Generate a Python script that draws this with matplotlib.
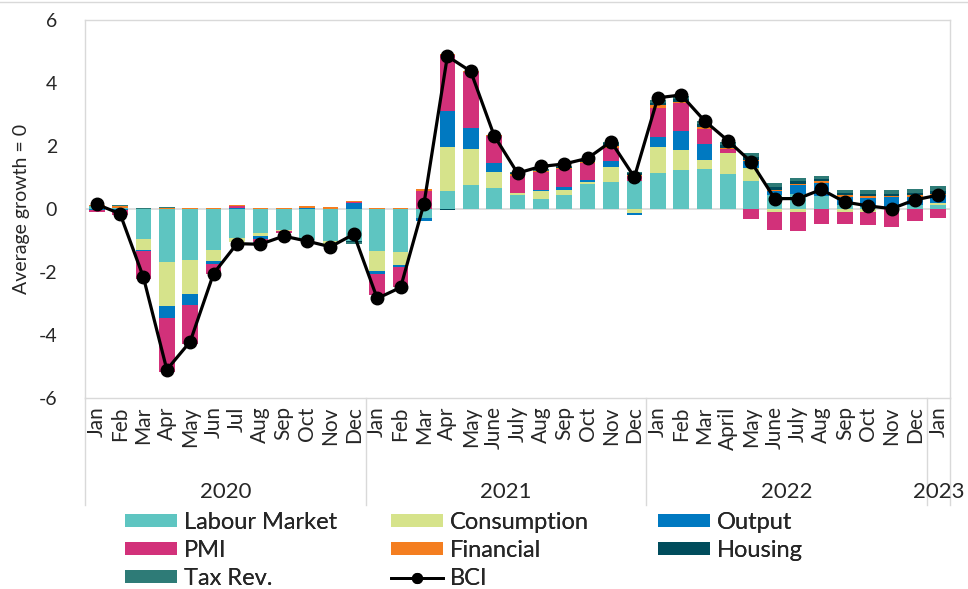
import matplotlib
matplotlib.use("Agg")
import matplotlib.pyplot as plt
import numpy as np
from matplotlib.lines import Line2D
from matplotlib.patches import Patch

plt.rcParams['font.family'] = ['Lato', 'DejaVu Sans']

months = ["Jan", "Feb", "Mar", "Apr", "May", "Jun", "Jul", "Aug", "Sep", "Oct", "Nov", "Dec",
          "Jan", "Feb", "Mar", "Apr", "May", "June", "July", "Aug", "Sep", "Oct", "Nov", "Dec",
          "Jan", "Feb", "Mar", "April", "May", "June", "July", "Aug", "Sep", "Oct", "Nov", "Dec",
          "Jan"]
years = ["2020", "2021", "2022", "2023"]
year_counts = [12, 12, 12, 1]

labour = [0.08, 0.04, -0.95, -1.67, -1.61, -1.30, -0.91, -0.75, -0.67, -0.98, -1.03, -1.00,
          -1.32, -1.35, -0.30, 0.56, 0.75, 0.68, 0.46, 0.33, 0.44, 0.80, 0.87, 0.88,
          1.14, 1.23, 1.26, 1.10, 0.89, 0.45, 0.49, 0.40, 0.14, 0.06, 0.04, 0.14, 0.14]
consumption = [0, 0, -0.34, -1.42, -1.10, -0.36, -0.14, -0.10, -0.03, 0, -0.09, 0,
               -0.65, -0.43, 0, 1.41, 1.15, 0.49, 0.06, 0.23, 0.15, 0.07, 0.46, -0.13,
               0.83, 0.63, 0.31, 0.69, 0.42, -0.10, -0.10, 0, -0.08, -0.08, 0, 0, 0.06]
output = [-0.03, -0.03, -0.04, -0.38, -0.34, -0.10, 0.04, -0.11, 0, 0.03, 0, 0.18,
          -0.10, -0.07, -0.08, 1.14, 0.68, 0.30, 0, 0.05, 0.10, 0.06, 0.19, -0.07,
          0.32, 0.61, 0.50, 0, 0.20, 0.12, 0.26, 0.43, 0.24, 0.29, 0.33, 0.24, 0.23]
pmi = [-0.05, -0.15, -0.89, -1.71, -1.24, -0.30, 0.04, -0.10, -0.05, 0, 0, 0.05,
       -0.66, -0.62, 0.56, 1.79, 1.77, 0.85, 0.54, 0.55, 0.57, 0.52, 0.42, 0.16,
       0.93, 0.89, 0.48, 0.10, -0.33, -0.58, -0.61, -0.48, -0.39, -0.44, -0.57, -0.39, -0.29]
financial = [0.04, 0.05, 0, 0.03, 0.03, 0.03, 0.04, 0.03, 0.03, 0.05, 0.06, 0.03,
             0.02, 0.03, 0.08, 0.03, 0.03, 0.03, 0.05, 0.06, 0.05, 0.05, 0.07, 0.05,
             0.07, 0.05, 0.06, 0.05, 0.05, 0.04, 0.05, 0.05, 0.05, 0.05, 0.04, 0.06, 0.05]
housing = [0, 0.02, 0, 0, 0, 0, 0, 0, 0, 0, 0, -0.05,
           0, 0, 0, -0.03, 0, 0, 0.03, 0, 0.03, 0.05, 0.08, 0.04,
           0.07, 0.08, 0.08, 0.08, 0.10, 0.08, 0.08, 0.08, 0.07, 0.08, 0.08, 0.08, 0.10]
tax_rev = [0, 0.02, 0.03, 0.04, 0, 0, 0, -0.03, 0, 0, 0, -0.05,
           0, 0, 0, 0, 0, 0, 0.03, 0.05, 0.03, 0.05, 0.05, 0.05,
           0.11, 0.11, 0.11, 0.11, 0.13, 0.15, 0.10, 0.10, 0.11, 0.12, 0.10, 0.10, 0.14]
bci = [0.15, -0.15, -2.17, -5.10, -4.21, -2.05, -1.10, -1.12, -0.86, -1.02, -1.20, -0.80,
       -2.84, -2.49, 0.17, 4.85, 4.37, 2.33, 1.14, 1.35, 1.43, 1.61, 2.14, 1.01,
       3.53, 3.62, 2.80, 2.17, 1.49, 0.33, 0.33, 0.62, 0.22, 0.10, 0.01, 0.29, 0.44]

series_names = ["Labour Market", "Consumption", "Output", "PMI", "Financial", "Housing", "Tax Rev."]
series_vals = [labour, consumption, output, pmi, financial, housing, tax_rev]
colors = ["#5EC5C1", "#D6E38B", "#0079C1", "#D2317A", "#F47E20", "#004C5C", "#2E7B77"]

txt = "#262626"
grid_c = "#D9D9D9"
W, H = 968, 589

fig = plt.figure(figsize=(W / 100, H / 100), dpi=100)
ax = fig.add_axes([85 / W, 1 - 398 / H, (950 - 85) / W, (398 - 20) / H])

n = len(months)
x = np.arange(n)
pos_bottom = np.zeros(n)
neg_bottom = np.zeros(n)
for name, vals, c in zip(series_names, series_vals, colors):
    v = np.array(vals, dtype=float)
    bottoms = np.where(v >= 0, pos_bottom, neg_bottom)
    ax.bar(x, v, width=0.67, bottom=bottoms, color=c, linewidth=0, zorder=2)
    pos_bottom = pos_bottom + np.where(v >= 0, v, 0)
    neg_bottom = neg_bottom + np.where(v < 0, v, 0)

ax.plot(x, bci, color="black", linewidth=2.3, marker="o", markersize=9, zorder=4)
ax.axhline(0, color=grid_c, linewidth=1.2, zorder=1)

ax.set_xlim(-0.5, n - 0.5)
ax.set_ylim(-6, 6)
ax.set_yticks(np.arange(-6, 7, 2))
ax.set_yticklabels([str(v) for v in range(-6, 7, 2)])
ax.tick_params(axis='y', length=0, pad=20, labelsize=14, labelcolor=txt)
ax.set_xticks(x)
ax.set_xticklabels(months, rotation=90, fontsize=15, color=txt)
ax.tick_params(axis='x', length=0, pad=6)
for s in ax.spines.values():
    s.set_color(grid_c)
    s.set_linewidth(1)

ax.set_ylabel("Average growth = 0", fontsize=14, color=txt, labelpad=6)

# multi-level category separators and year labels
trans = ax.get_xaxis_transform()
bottom_y = -(505 - 398) / (398 - 20)
edges = [-0.5]
start = -0.5
for cnt in year_counts:
    start += cnt
    edges.append(start)
for e in edges:
    ax.plot([e, e], [0, bottom_y], transform=trans, color=grid_c, linewidth=1, clip_on=False)
start = -0.5
year_y = -(492 - 398) / (398 - 20)
for yr, cnt in zip(years, year_counts):
    center = start + cnt / 2
    ax.text(center, year_y, yr, transform=trans, ha="center", va="center", fontsize=16, color=txt)
    start += cnt

# top border line of the chart area
fig.add_artist(Line2D([0, 1], [1 - 2 / H, 1 - 2 / H], transform=fig.transFigure, color=grid_c, linewidth=1))

handles = [Patch(facecolor=c, edgecolor='none') for c in colors]
handles.append(Line2D([], [], color="black", linewidth=2, marker="o", markersize=7))
labels = series_names + ["BCI"]
columns = [[0, 3, 6], [1, 4, 7], [2, 5]]
col_x = [125, 391, 658]
for cx, idx in zip(col_x, columns):
    leg = fig.legend([handles[i] for i in idx], [labels[i] for i in idx],
                     loc="upper left", bbox_to_anchor=(cx / W, 1 - 512 / H), ncol=1,
                     frameon=False, fontsize=17, handlelength=2.2, handleheight=0.45,
                     handletextpad=0.28, labelspacing=0.3, borderpad=0, borderaxespad=0,
                     labelcolor=txt)
    fig.add_artist(leg)

fig.savefig("out.png", dpi=100)
